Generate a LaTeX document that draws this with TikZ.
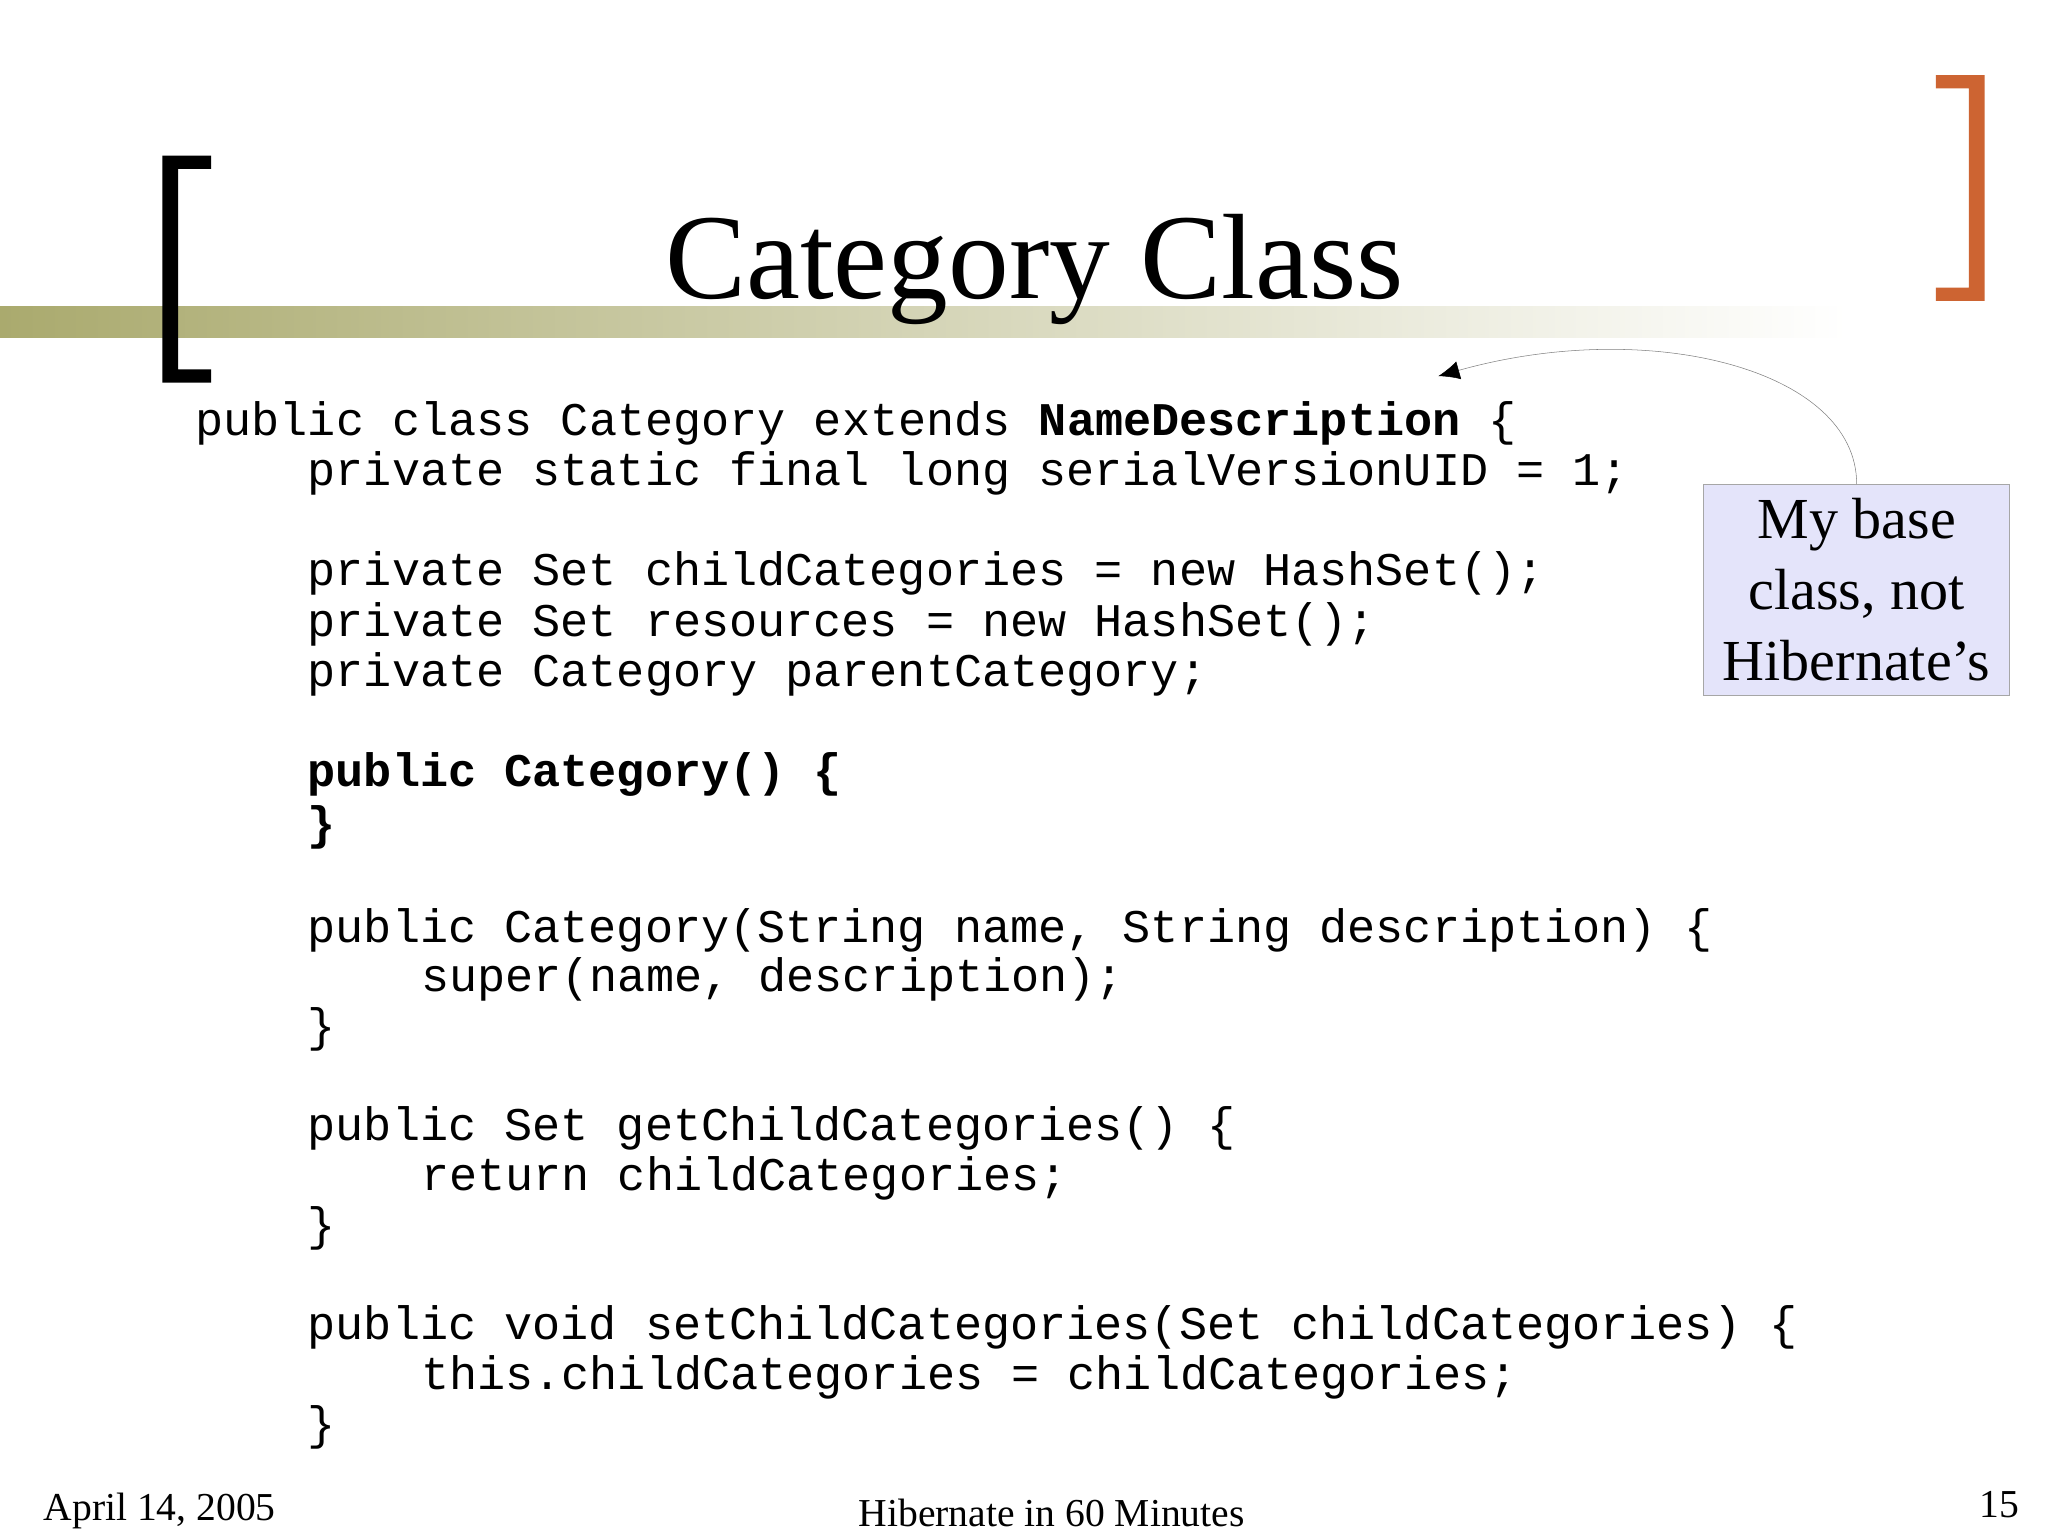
\documentclass[tikz,border=0pt]{standalone}
\usepackage{fontspec}
\setmainfont{Liberation Serif}
\setmonofont{Liberation Mono}
\usetikzlibrary{arrows.meta}
\definecolor{brorange}{RGB}{205,100,50}
\begin{document}
\begin{tikzpicture}[x=1pt,y=-1pt,
  code/.style={anchor=base west,inner sep=0pt,font=\fontsize{35.5}{40}\selectfont\ttfamily},
  foot/.style={anchor=base,inner sep=0pt,font=\fontsize{30}{34}\selectfont}]
\useasboundingbox[fill=white] (0,0) rectangle (1552,1164);
\shade[left color={rgb,255:red,170;green,170;blue,110},right color=white] (0,232) rectangle (1400,256);
\fill[black] (123,118) rectangle (160,128) (123,118) rectangle (135,290) (123,280) rectangle (160,290);
\fill[brorange] (1467,57) rectangle (1504,67) (1492,57) rectangle (1504,228) (1467,218) rectangle (1504,228);
\node[anchor=base,inner sep=0pt,font=\fontsize{92}{96}\selectfont] (title) at (784,226) {Category Class};
\node[code] (l1) at (148,330) {public class Category extends \textbf{NameDescription} \{};
\node[code] (l2) at (233,368) {private static final long serialVersionUID = 1;};
\node[code] (l3) at (233,444) {private Set childCategories = new HashSet();};
\node[code] (l4) at (233,482) {private Set resources = new HashSet();};
\node[code] (l5) at (233,520) {private Category parentCategory;};
\node[code] (l6) at (233,596) {\textbf{public Category() \{}};
\node[code] (l7) at (233,636) {\textbf{\}}};
\node[code] (l8) at (233,714) {public Category(String name, String description) \{};
\node[code] (l9) at (319,751) {super(name, description);};
\node[code] (l10) at (233,789) {\}};
\node[code] (l11) at (233,864) {public Set getChildCategories() \{};
\node[code] (l12) at (319,902) {return childCategories;};
\node[code] (l13) at (233,940) {\}};
\node[code] (l14) at (233,1015) {public void setChildCategories(Set childCategories) \{};
\node[code] (l15) at (319,1053) {this.childCategories = childCategories;};
\node[code] (l16) at (233,1091) {\}};
\node[draw=gray!70,fill={rgb,255:red,228;green,228;blue,250},minimum width=232pt,minimum height=160pt,inner sep=2pt,align=center,
  font=\fontsize{44}{54}\selectfont] (box) at (1407,447) {My base\\class, not\\Hibernate\char"0027 s};
\coordinate (tip) at (1090,285);
\draw[gray,-{Latex[length=16pt,width=14pt,black]}] (box.north) .. controls (1407,280) and (1250,240) .. (tip);
\node[foot] (date) at (121,1152) {April 14, 2005};
\node[foot] (mid) at (797,1157) {Hibernate in 60 Minutes};
\node[foot] (num) at (1515,1150) {15};
\end{tikzpicture}
\end{document}
